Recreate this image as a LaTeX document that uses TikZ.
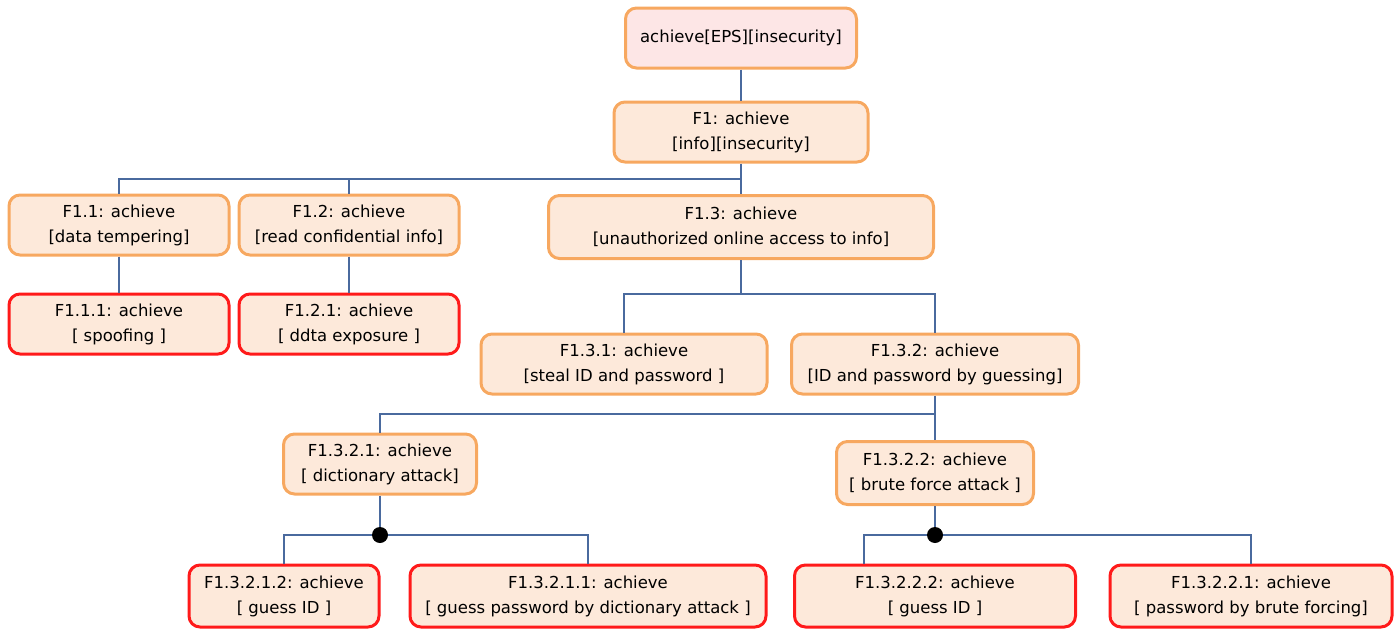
\documentclass[tikz,border=0pt]{standalone}
\usepackage{fontspec}
\setmainfont{DejaVu Sans}
\usepackage{tikz}
\usetikzlibrary{positioning}

\definecolor{goalfill}{HTML}{FDE9DA}
\definecolor{rootfill}{HTML}{FDE6E6}
\definecolor{goalline}{HTML}{F7A860}
\definecolor{leafline}{HTML}{FF1A1A}
\definecolor{linkblue}{HTML}{4A6A9E}

\begin{document}
\begin{tikzpicture}[x=1pt, y=-1pt,
    font=\fontsize{16.5}{25}\selectfont,
    goalbox/.style={draw=goalline, line width=3pt, fill=goalfill, rounded corners=11pt, align=center, inner sep=0pt, minimum height=60pt},
    leafbox/.style={goalbox, draw=leafline},
    link/.style={draw=linkblue, line width=1.1pt},
    anddot/.style={circle, fill=black, inner sep=0pt, minimum size=16pt}]
  \useasboundingbox (0,0) rectangle (1400,629);

  % goals
  \node[goalbox, fill=rootfill, minimum width=231pt] (root) at (741,38) {achieve[EPS][insecurity]};
  \node[goalbox, minimum width=254pt] (f1) at (741,132) {F1: achieve\\{}[info][insecurity]};
  \node[goalbox, minimum width=220pt] (f11) at (119,225) {F1.1: achieve\\{}[data tempering]};
  \node[goalbox, minimum width=220pt] (f12) at (349,225) {F1.2: achieve\\{}[read confidential info]};
  \node[goalbox, minimum width=385pt, minimum height=63pt] (f13) at (741,227) {F1.3: achieve\\{}[unauthorized online access to info]};
  \node[leafbox, minimum width=220pt] (f111) at (119,324) {F1.1.1: achieve\\{}[ spoofing ]};
  \node[leafbox, minimum width=220pt] (f121) at (349,324) {F1.2.1: achieve\\{}[ ddta exposure ]};
  \node[goalbox, minimum width=286pt] (f131) at (624,364) {F1.3.1: achieve\\{}[steal ID and password ]};
  \node[goalbox, minimum width=287pt] (f132) at (935,364) {F1.3.2: achieve\\{}[ID and password by guessing]};
  \node[goalbox, minimum width=193pt] (f1321) at (380,464) {F1.3.2.1: achieve\\{}[ dictionary attack]};
  \node[goalbox, minimum width=197pt, minimum height=63pt] (f1322) at (935,473) {F1.3.2.2: achieve\\{}[ brute force attack ]};

  % leaves
  \node[leafbox, minimum width=190pt, minimum height=62pt] (f13212) at (284,596) {F1.3.2.1.2: achieve\\{}[ guess ID ]};
  \node[leafbox, minimum width=356pt, minimum height=62pt] (f13211) at (588,596) {F1.3.2.1.1: achieve\\{}[ guess password by dictionary attack ]};
  \node[leafbox, minimum width=281pt, minimum height=62pt] (f13222) at (935,596) {F1.3.2.2.2: achieve\\{}[ guess ID ]};
  \node[leafbox, minimum width=282pt, minimum height=62pt] (f13221) at (1251,596) {F1.3.2.2.1: achieve\\{}[ password by brute forcing]};

  % and-refinement points
  \node[anddot] (and1) at (380,535) {};
  \node[anddot] (and2) at (935,535) {};

  \coordinate (bus1) at (0,179);
  \coordinate (bus2) at (0,294);
  \coordinate (bus3) at (0,414);

  % links
  \draw[link] (root) -- (f1);
  \draw[link] (f1.south) -- (f1.south |- bus1) -| (f11.north);
  \draw[link] (f1.south |- bus1) -| (f12.north);
  \draw[link] (f1.south |- bus1) -- (f13.north);
  \draw[link] (f11) -- (f111);
  \draw[link] (f12) -- (f121);
  \draw[link] (f13.south) -- (f13.south |- bus2) -| (f131.north);
  \draw[link] (f13.south |- bus2) -| (f132.north);
  \draw[link] (f132.south) -- (f132.south |- bus3) -| (f1321.north);
  \draw[link] (f132.south |- bus3) -- (f1322.north);
  \draw[link] (f1321) -- (and1);
  \draw[link] (f13212.north) |- (and1) -| (f13211.north);
  \draw[link] (f1322) -- (and2);
  \draw[link] ([xshift=71pt]f13222.north west) |- (and2) -| (f13221.north);
\end{tikzpicture}
\end{document}
